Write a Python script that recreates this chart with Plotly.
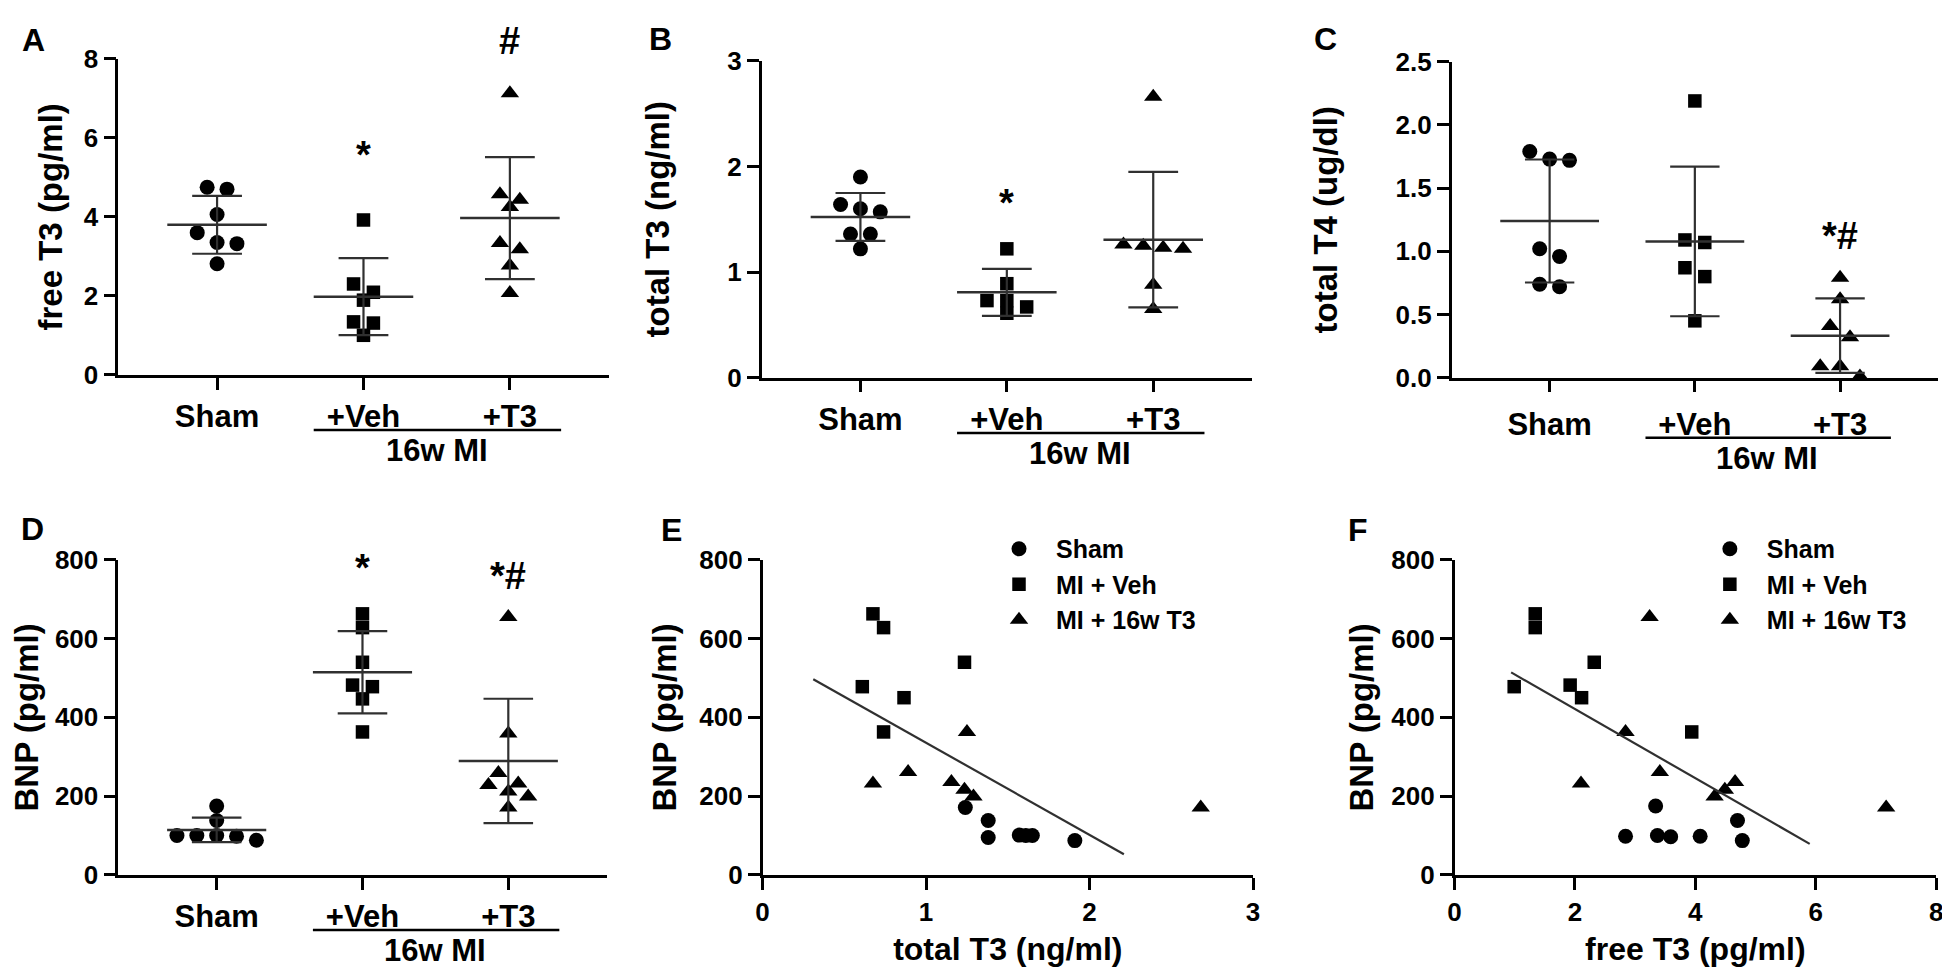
import numpy as np
import plotly.graph_objects as go

# ---- data ----
groups = ["Sham", "+Veh", "+T3"]

# A: free T3 (pg/ml)
a_sham = [4.75, 4.70, 4.06, 3.60, 3.35, 3.32, 2.81]
a_veh = [3.92, 2.30, 2.09, 1.89, 1.34, 1.31, 1.00]
a_t3 = [7.13, 4.57, 4.43, 4.25, 3.34, 3.18, 2.77, 2.07]
a_sig = ["", "*", "#"]

# B: total T3 (ng/ml)
b_sham = [1.90, 1.64, 1.60, 1.57, 1.36, 1.36, 1.22]
b_veh = [1.22, 0.89, 0.73, 0.73, 0.67, 0.61]
b_t3 = [2.66, 1.26, 1.25, 1.23, 1.22, 0.88, 0.65]
b_sig = ["", "*", ""]

# C: total T4 (ug/dl)
c_sham = [1.79, 1.73, 1.72, 1.02, 0.96, 0.74, 0.72]
c_veh = [2.19, 1.09, 1.07, 0.87, 0.80, 0.45]
c_t3 = [0.79, 0.62, 0.41, 0.32, 0.09, 0.09, 0.01]
c_sig = ["", "", "*#"]

# D: BNP (pg/ml)
d_sham = [175, 138, 100, 100, 98, 100, 88]
d_veh = [663, 628, 540, 482, 478, 447, 363]
d_t3 = [655, 359, 259, 232, 228, 212, 199, 171]
d_sig = ["", "*", "*#"]

# E: BNP vs total T3
e_sham_x = [1.24, 1.38, 1.38, 1.57, 1.61, 1.65, 1.91]
e_sham_y = [171, 138, 95, 101, 100, 100, 87]
e_veh_x = [0.675, 0.74, 1.235, 0.61, 0.865, 0.74]
e_veh_y = [663, 628, 540, 478, 450, 363]
e_t3_x = [0.675, 0.89, 1.155, 1.235, 1.29, 1.25, 2.68]
e_t3_y = [232, 261, 236, 216, 199, 363, 171]
e_fit_range = [0.31, 2.21]

# F: BNP vs free T3
f_sham_x = [3.34, 4.70, 2.84, 3.37, 3.59, 4.08, 4.78]
f_sham_y = [175, 138, 98, 100, 97, 98, 87]
f_veh_x = [1.34, 1.34, 2.32, 0.99, 1.92, 2.11, 3.94]
f_veh_y = [663, 628, 540, 478, 482, 450, 363]
f_t3_x = [3.24, 2.84, 3.41, 2.10, 4.32, 4.49, 4.66, 7.17]
f_t3_y = [655, 363, 261, 232, 199, 216, 236, 171]
f_fit_range = [0.94, 5.90]

legend_names = ["Sham", "MI + Veh", "MI + 16w T3"]

# ---- styling / layout ----
W, H = 1950, 972
FONT = "Liberation Sans, Arial, sans-serif"
SYMBOLS = [("circle", 15), ("square", 13.5), ("triangle-up", 16)]
LINE_COL = "#303030"
CAT_RANGE = [-0.675, 2.675]


def dom(x0, x1, y0, y1):
    return [x0 / W, x1 / W], [(H - y1) / H, (H - y0) / H]


def bold(size):
    return dict(family=FONT, size=size, color="black", weight="bold")


base_axis = dict(showline=True, linecolor="black", linewidth=2.5, ticks="outside",
                 ticklen=12, tickwidth=2.5, tickcolor="black", showgrid=False,
                 zeroline=False, tickfont=bold(26))

# pixel boxes of each plot area (x0, x1, ytop, ybottom)
boxes = {
    "A": (104, 598, 37, 363),
    "B": (752, 1246, 39, 366),
    "C": (1447, 1937, 40, 366),
    "D": (104, 596, 554, 879),
    "E": (753, 1247, 554, 879),
    "F": (1450, 1935, 554, 879),
}

fig = go.Figure()


def swarm(vals, px_per_unit, cat_px, thr=12, step=20):
    # GraphPad-like column scatter: near-equal values share a row and spread out
    order = sorted(range(len(vals)), key=lambda i: -vals[i])
    rows = []
    for i in order:
        if rows and (vals[rows[-1][0]] - vals[i]) * px_per_unit <= thr:
            rows[-1].append(i)
        else:
            rows.append([i])
    off = [0.0] * len(vals)
    for r in rows:
        for k, i in enumerate(r):
            off[i] = (k - (len(r) - 1) / 2) * step / cat_px
    return off


def column_panel(n, key, data, ymax, dtick, ytitle, standoff, sig, sig_pos, fmt=None, drop=0):
    x0, x1, yt, yb = boxes[key]
    xd, yd = dom(x0, x1, yt, yb)
    sfx = "" if n == 1 else str(n)
    cat_px = (x1 - x0) / (CAT_RANGE[1] - CAT_RANGE[0])
    ppu = (yb - yt) / ymax
    for gi, vals in enumerate(data):
        sym, size = SYMBOLS[gi]
        offs = swarm(vals, ppu, cat_px)
        fig.add_trace(go.Scatter(
            x=[gi + o for o in offs], y=vals, mode="markers", xaxis="x" + sfx, yaxis="y" + sfx,
            marker=dict(symbol=sym, size=size, color="black"), cliponaxis=False, showlegend=False))
        m = float(np.mean(vals))
        s = float(np.std(vals, ddof=1))
        fig.add_trace(go.Scatter(
            x=[gi - 0.34, gi + 0.34], y=[m, m], mode="lines", xaxis="x" + sfx, yaxis="y" + sfx,
            line=dict(color=LINE_COL, width=2.5), cliponaxis=False, showlegend=False))
        fig.add_trace(go.Scatter(
            x=[gi - 0.17, gi + 0.17, None, gi, gi, None, gi - 0.17, gi + 0.17],
            y=[m + s, m + s, None, m + s, m - s, None, m - s, m - s],
            mode="lines", xaxis="x" + sfx, yaxis="y" + sfx,
            line=dict(color=LINE_COL, width=2.2), cliponaxis=False, showlegend=False))
        if sig[gi]:
            # position given as fraction of the plot height (may sit above the axis top)
            fig.add_annotation(x=gi, y=sig_pos[gi], xref="x" + sfx, yref="y" + sfx + " domain",
                               text=sig[gi], showarrow=False, font=bold(38), yanchor="middle")
    fig.update_layout(**{
        "xaxis" + sfx: dict(base_axis, domain=xd, range=CAT_RANGE, tickvals=[0, 1, 2],
                            ticktext=groups, tickfont=bold(31), anchor="y" + sfx,
                            ticklabelstandoff=drop),
        "yaxis" + sfx: dict(base_axis, domain=yd, range=[0, ymax], dtick=dtick, tickformat=fmt,
                            anchor="x" + sfx,
                            title=dict(text=ytitle, font=bold(33), standoff=standoff)),
    })
    # "16w MI" bracket under the two MI groups
    h = yb - yt
    fig.add_shape(type="line", xref="x" + sfx, yref="y" + sfx + " domain",
                  x0=0.66, x1=2.35, y0=-(57 + drop) / h, y1=-(57 + drop) / h,
                  line=dict(color="black", width=2.5))
    fig.add_annotation(x=1.5, y=-(78 + drop) / h, xref="x" + sfx, yref="y" + sfx + " domain",
                       text="16w MI", showarrow=False, font=bold(31), yanchor="middle")


def scatter_panel(n, key, series, xmax, xdtick, xtitle, fit_range, legend_id, ystandoff):
    x0, x1, yt, yb = boxes[key]
    xd, yd = dom(x0, x1, yt, yb)
    sfx = str(n)
    for gi, (xs, ys) in enumerate(series):
        sym, size = SYMBOLS[gi]
        fig.add_trace(go.Scatter(
            x=xs, y=ys, mode="markers", name=legend_names[gi], xaxis="x" + sfx, yaxis="y" + sfx,
            marker=dict(symbol=sym, size=size, color="black"), cliponaxis=False,
            legend=legend_id))
    allx = np.concatenate([np.asarray(s[0], float) for s in series])
    ally = np.concatenate([np.asarray(s[1], float) for s in series])
    slope, icpt = np.polyfit(allx, ally, 1)
    fx = np.array(fit_range)
    fig.add_trace(go.Scatter(
        x=fx, y=slope * fx + icpt, mode="lines", xaxis="x" + sfx, yaxis="y" + sfx,
        line=dict(color=LINE_COL, width=2.2), showlegend=False))
    fig.update_layout(**{
        "xaxis" + sfx: dict(base_axis, domain=xd, range=[0, xmax], dtick=xdtick, anchor="y" + sfx,
                            title=dict(text=xtitle, font=bold(32), standoff=12)),
        "yaxis" + sfx: dict(base_axis, domain=yd, range=[0, 800], dtick=200, anchor="x" + sfx,
                            title=dict(text="BNP (pg/ml)", font=bold(33), standoff=ystandoff)),
    })


column_panel(1, "A", [a_sham, a_veh, a_t3], 8, 2, "free T3 (pg/ml)", 12, a_sig,
             [None, 0.695, 1.055])
column_panel(2, "B", [b_sham, b_veh, b_t3], 3, 1, "total T3 (ng/ml)", 48, b_sig,
             [None, 0.55, None])
column_panel(3, "C", [c_sham, c_veh, c_t3], 2.5, 0.5, "total T4 (ug/dl)", 48, c_sig,
             [None, None, 0.45], fmt=".1f", drop=5)
column_panel(4, "D", [d_sham, d_veh, d_t3], 800, 200, "BNP (pg/ml)", 11, d_sig,
             [None, 0.975, 0.95])
scatter_panel(5, "E", [(e_sham_x, e_sham_y), (e_veh_x, e_veh_y), (e_t3_x, e_t3_y)],
              3, 1, "total T3 (ng/ml)", e_fit_range, "legend", 13)
scatter_panel(6, "F", [(f_sham_x, f_sham_y), (f_veh_x, f_veh_y), (f_t3_x, f_t3_y)],
              8, 2, "free T3 (pg/ml)", f_fit_range, "legend2", 8)

# panel letters
for letter, (lx, ly) in {"A": (19, 18), "B": (650, 17), "C": (1320, 17),
                         "D": (18, 522), "E": (661, 523), "F": (1353, 523)}.items():
    fig.add_annotation(x=lx / W, y=(H - ly) / H, xref="paper", yref="paper", text=letter,
                       showarrow=False, font=bold(32), xanchor="center", yanchor="middle")

leg = dict(xanchor="left", yanchor="top", font=bold(25), itemwidth=64,
           bgcolor="rgba(0,0,0,0)", itemsizing="trace", tracegroupgap=0)
fig.update_layout(
    width=W, height=H, margin=dict(l=0, r=0, t=0, b=0),
    paper_bgcolor="white", plot_bgcolor="white",
    showlegend=True,
    legend=dict(leg, x=974 / W, y=(H - 519) / H),
    legend2=dict(leg, x=1690 / W, y=(H - 519) / H),
)

fig.write_html("out.html")
